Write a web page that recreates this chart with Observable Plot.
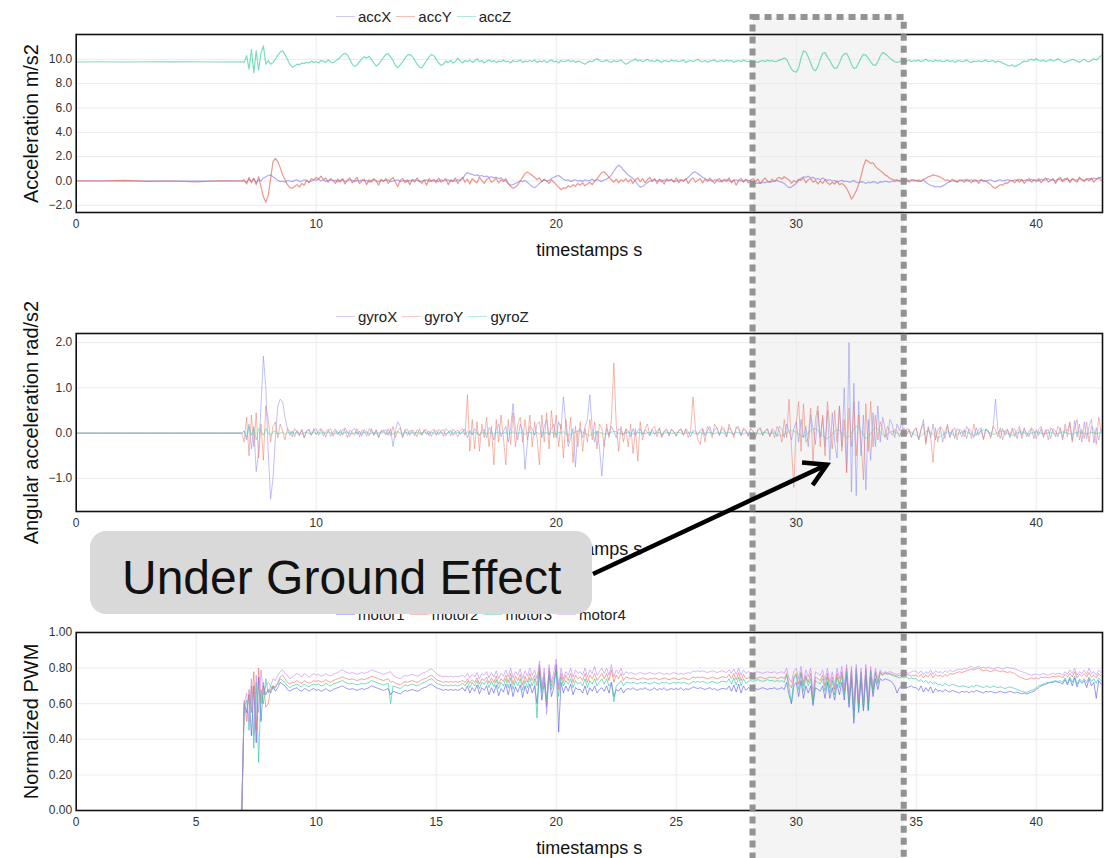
<!DOCTYPE html>
<html><head><meta charset="utf-8">
<script src="https://cdn.jsdelivr.net/npm/d3@7"></script>
<script src="https://cdn.jsdelivr.net/npm/@observablehq/plot@0.6"></script>
<style>
body{margin:0;background:#fff;}
#wrap{position:relative;width:1114px;height:858px;overflow:hidden;font-family:"Liberation Sans",Arial,sans-serif;}
#shade{position:absolute;background:#f4f4f4;z-index:0;}
.chart{position:absolute;left:0;z-index:1;}
.legend{position:absolute;z-index:2;display:flex;align-items:center;font-size:15px;color:#222;height:20px;}
.legend .it{display:flex;align-items:center;margin-right:5px;}
.legend .sw{display:inline-block;width:19px;height:0;border-top:1.2px solid;margin-right:3px;}
#box{position:absolute;left:90px;top:531px;width:502px;height:83px;border-radius:16px;background:#d9d9d9;z-index:4;
 font-family:"Liberation Sans",Arial,sans-serif;font-size:48px;color:#111;box-sizing:border-box;padding-left:32px;line-height:83px;}
#box span{position:relative;top:5px;}
#over{position:absolute;left:0;top:0;z-index:5;pointer-events:none;}
</style></head>
<body><div id="wrap"><div id="shade"></div></div>
<script>
// ---------- data ----------
const preT = [0, 1, 2, 3, 4, 5, 6, 6.9];      // flat pre-takeoff samples
const T0 = 7.0, DT = 0.1;                      // main samples: 7.0 s .. 42.7 s every 0.1 s
const highlight = [28.2, 34.5];                // "under ground effect" window (s)
const arrowTip = {t: 31.3, v: -0.7};           // arrow target in gyro panel

const accNames = ["accX", "accY", "accZ"];
const gyroNames = ["gyroX", "gyroY", "gyroZ"];
const motorNames = ["motor1", "motor2", "motor3", "motor4"];

const accXpre = [0, 0, 0, 0, 0, 0, 0, 0];
const accYpre = [0.02, 0, 0.05, -0.03, 0, -0.08, 0.02, 0];
const accZpre = [9.78, 9.8, 9.78, 9.8, 9.79, 9.8, 9.78, 9.8];
const accX = [
0.0,-0.1,0.15,-0.05,0.2,-0.15,0.1,0.0,0.25,0.35,
0.45,0.5,0.35,0.2,0.05,-0.05,0.0,-0.1,0.05,0.0,
-0.05,0.05,0.1,-0.05,0.0,0.1,0.05,-0.1,0.0,0.1,
0.05,0.15,0.0,0.1,-0.05,0.05,0.1,0.0,0.05,-0.05,
0.05,0.1,-0.05,0.0,0.1,0.05,-0.05,0.05,0.0,0.1,
0.0,0.05,-0.1,0.05,0.1,0.0,-0.05,0.05,0.0,0.05,
0.1,-0.05,0.0,0.05,0.1,-0.05,0.0,0.05,-0.05,0.05,
0.0,0.1,0.05,-0.05,0.0,0.05,0.1,-0.05,0.05,0.0,
0.05,-0.05,0.1,0.0,0.05,0.1,-0.05,0.05,0.0,0.1,
0.05,0.2,0.5,0.7,0.6,0.55,0.45,0.5,0.4,0.45,
0.35,0.4,0.3,0.35,0.25,0.3,0.2,0.25,0.1,0.0,
-0.2,-0.35,-0.3,-0.2,-0.1,0.0,-0.05,0.05,-0.1,-0.3,
-0.45,-0.55,-0.4,-0.2,-0.05,0.1,0.0,0.05,0.2,0.3,
0.4,0.45,0.3,0.15,0.05,0.1,-0.05,0.05,0.1,0.0,
0.05,-0.05,0.1,0.0,0.05,0.15,0.0,0.1,0.05,-0.05,
0.1,0.15,0.3,0.5,0.8,1.1,1.3,1.15,0.9,0.7,
0.5,0.35,0.2,0.0,-0.3,-0.5,-0.45,-0.3,-0.15,0.0,
0.05,0.1,0.0,0.05,-0.05,0.1,0.0,0.05,0.1,-0.05,
0.0,0.05,0.1,0.05,0.15,0.3,0.5,0.7,0.75,0.6,
0.45,0.3,0.2,0.1,0.05,0.0,0.1,0.05,-0.05,0.05,
0.0,0.1,0.05,-0.05,0.05,0.1,0.0,0.05,-0.05,0.1,
0.05,0.0,-0.1,-0.2,-0.15,-0.2,-0.1,-0.15,-0.05,-0.1,
-0.05,0.0,0.05,-0.05,-0.1,-0.2,-0.4,-0.55,-0.5,-0.35,
-0.2,0.05,0.2,0.35,0.3,0.4,0.25,0.3,0.15,0.2,
0.1,0.25,0.15,0.05,0.1,0.0,0.05,-0.1,0.0,0.05,
-0.05,0.0,-0.1,-0.05,0.05,-0.1,-0.15,-0.05,-0.1,-0.2,
-0.1,-0.15,-0.05,-0.1,-0.2,-0.05,-0.1,0.0,-0.05,-0.1,
0.0,-0.05,0.05,0.0,0.1,0.05,-0.05,0.05,0.1,0.0,
0.05,-0.05,0.0,0.1,-0.1,-0.25,-0.35,-0.4,-0.5,-0.45,
-0.5,-0.4,-0.3,-0.15,-0.05,0.0,0.05,-0.05,0.0,0.05,
0.1,0.0,0.05,0.1,-0.05,0.05,0.0,0.1,0.05,0.0,
0.05,0.1,0.0,-0.05,0.05,0.1,0.0,0.05,0.1,0.05,
0.0,0.1,0.05,0.15,0.0,0.05,0.1,0.0,0.15,0.05,
0.1,0.0,0.15,0.05,0.1,0.2,0.05,0.1,0.0,0.15,
0.1,0.05,0.2,0.1,0.0,0.15,0.1,0.05,0.2,0.1,
0.05,0.15,0.2,0.1,0.25,0.15,0.2,0.3];
const accY = [
0.1,-0.25,0.3,-0.15,0.2,-0.3,0.35,-0.5,-1.3,-1.75,
-1.2,0.2,1.6,1.85,1.6,1.1,0.5,0.1,-0.3,-0.55,
-0.6,-0.45,-0.3,-0.5,-0.2,-0.35,0.05,-0.15,0.2,0.1,
0.3,0.15,0.4,0.1,0.25,-0.1,0.2,0.05,-0.2,0.15,
-0.1,0.2,-0.25,0.1,0.25,-0.15,0.05,0.3,-0.2,0.0,
0.15,-0.3,0.1,-0.1,0.2,0.0,-0.35,0.15,-0.05,0.2,
-0.2,0.1,0.3,-0.1,-0.45,0.05,0.2,-0.15,0.1,-0.3,
0.15,-0.1,0.25,0.0,-0.2,0.1,-0.35,0.2,-0.05,0.15,
-0.15,0.25,-0.1,0.05,0.2,-0.3,0.1,-0.05,0.25,-0.2,
0.1,0.3,-0.1,0.15,-0.25,0.2,0.0,-0.15,0.3,0.05,
-0.2,0.15,0.25,-0.1,0.05,0.2,-0.15,0.1,-0.05,0.2,
-0.2,-0.45,-0.6,-0.5,-0.3,0.0,0.3,0.6,0.75,0.6,
0.45,0.3,0.1,0.25,-0.05,0.15,0.0,-0.2,0.1,-0.1,
-0.3,-0.5,-0.7,-0.55,-0.6,-0.4,-0.5,-0.3,-0.45,-0.2,
-0.35,-0.15,-0.4,-0.25,-0.1,-0.3,0.0,0.2,0.45,0.7,
0.75,0.55,0.3,0.1,-0.1,0.15,-0.15,0.1,-0.05,0.2,
-0.1,0.15,-0.2,0.1,0.25,-0.05,0.2,-0.15,0.1,0.3,
-0.05,0.2,-0.2,0.15,0.05,-0.25,0.2,0.0,0.15,-0.1,
0.25,-0.15,0.1,-0.05,0.2,-0.2,0.1,0.25,-0.1,0.05,
0.2,-0.15,0.15,-0.05,0.25,0.0,-0.2,0.1,0.2,-0.1,
0.15,-0.05,0.25,-0.15,0.1,-0.35,0.05,0.2,-0.1,0.15,
-0.15,0.1,0.2,-0.05,0.15,-0.2,0.05,0.25,0.0,-0.1,
0.15,-0.05,0.2,0.3,0.15,0.35,0.2,0.1,-0.2,0.05,
-0.1,0.15,0.05,0.25,-0.15,0.1,0.2,-0.1,0.05,-0.25,
0.0,-0.2,0.1,-0.15,-0.3,-0.1,-0.25,0.0,-0.3,-0.2,
-0.35,-0.6,-1.0,-1.5,-1.2,-0.8,-0.3,0.4,1.2,1.75,
1.6,1.45,1.5,1.2,1.0,0.85,0.7,0.5,0.4,0.2,
0.15,0.05,0.1,-0.05,0.1,0.0,0.15,-0.1,0.05,0.1,
0.0,0.1,-0.05,0.15,0.2,0.35,0.4,0.5,0.45,0.4,
0.3,0.2,0.05,0.1,-0.05,0.15,0.0,-0.1,0.1,0.05,
-0.1,0.15,0.0,-0.15,0.1,0.05,-0.2,0.1,-0.05,0.0,
-0.15,-0.3,-0.5,-0.6,-0.45,-0.3,-0.35,-0.15,-0.2,0.0,
0.05,-0.15,0.1,-0.1,0.15,-0.2,0.05,0.2,-0.1,0.1,
-0.05,0.2,-0.15,0.1,0.25,-0.1,0.05,0.2,-0.2,0.15,
0.3,-0.05,0.1,0.25,-0.15,0.2,0.05,-0.1,0.3,0.1,
-0.05,0.2,0.0,0.25,-0.1,0.15,0.3,0.05];
const accZ = [
9.75,10.3,9.2,10.8,8.9,10.7,9.1,10.5,11.1,9.6,
9.9,9.6,9.75,10.0,10.35,10.6,10.7,10.4,10.0,9.6,
9.35,9.45,9.6,9.55,9.7,9.65,9.75,9.7,9.85,9.75,
9.8,9.7,9.9,9.85,9.75,9.95,9.8,9.7,9.85,10.0,
10.15,10.4,10.5,10.35,10.0,9.6,9.4,9.55,9.8,10.05,
10.2,10.1,10.25,10.0,9.7,9.45,9.6,9.85,10.15,10.4,
10.45,10.2,9.9,9.5,9.3,9.55,9.8,10.1,10.35,10.4,
10.25,9.95,9.6,9.35,9.3,9.6,9.9,10.2,10.4,10.3,
10.0,9.7,9.5,9.6,9.85,9.75,9.9,9.7,9.8,10.1,
9.85,9.7,9.9,9.8,9.95,9.75,9.85,10.05,9.8,9.9,
9.7,9.85,9.95,9.8,9.9,9.75,9.85,9.8,9.95,9.8,
9.85,9.7,9.9,9.8,9.85,9.95,9.75,9.85,9.8,9.9,
9.8,9.95,9.75,9.85,9.8,9.9,9.75,9.85,9.95,9.8,
9.85,9.7,9.9,9.8,9.85,9.95,9.8,9.9,9.75,9.85,
9.8,9.7,9.6,9.75,9.85,9.8,9.95,10.05,9.9,9.8,
9.85,9.95,9.8,9.75,9.9,9.8,9.85,9.95,9.75,9.6,
9.7,9.85,9.9,10.05,9.85,9.95,9.8,9.9,10.0,9.85,
9.9,9.8,9.95,9.85,9.75,9.9,9.85,9.8,9.95,9.85,
9.9,9.8,9.85,9.95,9.75,9.85,9.9,9.8,9.9,10.0,
9.85,9.8,9.9,9.75,9.85,9.9,9.95,9.8,9.85,9.9,
9.8,9.95,9.85,9.9,9.75,9.85,9.9,9.8,9.95,9.85,
9.8,9.9,9.85,9.8,9.75,9.85,9.9,9.8,9.95,9.85,
9.9,9.8,9.85,9.95,10.0,10.1,10.0,9.6,9.2,9.0,
8.95,9.3,10.1,10.7,10.6,10.2,9.7,9.2,9.05,9.4,
10.0,10.5,10.55,10.2,9.9,9.5,9.25,9.3,9.7,10.2,
10.45,10.5,10.1,9.6,9.25,9.3,9.7,10.1,10.4,10.35,
10.1,9.8,9.55,9.5,9.8,10.25,10.55,10.45,10.3,10.1,
9.95,9.8,9.75,9.8,9.9,9.75,9.85,9.95,9.8,9.9,
9.85,9.95,9.8,9.9,10.0,9.85,9.9,9.8,9.95,9.85,
9.9,9.8,9.85,9.95,9.8,9.9,9.75,9.85,9.9,9.8,
9.85,9.95,9.8,9.75,9.85,9.8,9.9,9.8,9.85,9.95,
9.8,9.85,9.9,9.75,9.85,9.8,9.7,9.6,9.5,9.45,
9.55,9.4,9.5,9.6,9.75,9.85,9.8,9.95,10.0,9.9,
10.05,9.9,9.85,9.95,9.8,9.9,10.0,9.85,9.9,10.05,
9.9,9.8,9.75,9.85,9.9,10.0,9.95,9.85,9.75,9.9,
10.0,9.85,9.8,9.9,10.05,9.95,10.1,10.3];

const gyroPre = [0, 0, 0, 0, 0, 0, 0, 0];
const gyroX = [
0.05,-0.15,0.2,-0.35,0.15,-0.85,-0.4,0.6,1.7,1.0,
-0.4,-1.45,-1.0,-0.1,0.6,0.75,0.7,0.35,0.1,-0.05,
0.05,-0.08,0.06,-0.04,0.08,-0.1,0.04,0.07,-0.05,0.1,
-0.03,0.06,0.1,-0.06,0.04,0.08,-0.07,0.03,0.09,-0.04,
0.07,-0.05,0.12,0.02,-0.08,0.06,0.1,-0.03,0.05,-0.07,
0.08,0.03,-0.06,0.1,-0.04,0.06,-0.09,0.05,0.02,0.08,
-0.05,0.1,-0.3,0.05,0.25,0.15,-0.1,0.08,-0.05,0.06,
0.04,-0.06,0.07,0.02,-0.05,0.08,-0.03,0.05,-0.07,0.04,
0.06,-0.04,0.05,0.08,-0.06,0.03,0.07,-0.05,0.04,0.06,
-0.03,0.05,0.08,-0.1,0.06,-0.04,0.1,0.03,-0.06,0.05,
0.08,-0.1,0.12,0.05,-0.15,0.1,0.2,-0.08,0.04,0.15,
-0.2,0.1,0.65,0.1,-0.15,0.2,0.05,-0.8,-0.2,0.15,
0.1,-0.05,0.2,0.25,-0.1,0.15,0.3,-0.05,0.1,0.2,
-0.1,0.25,0.1,0.8,0.2,-0.3,-0.1,0.1,-0.75,0.05,
0.1,-0.1,0.15,0.3,0.85,0.1,-0.2,0.05,-0.3,-0.95,
-0.2,0.1,-0.05,0.15,0.05,-0.1,0.1,0.05,-0.05,0.08,
0.05,-0.08,0.1,-0.05,0.06,0.1,-0.04,0.07,0.02,-0.06,
0.08,-0.03,0.05,0.1,-0.07,0.04,0.06,-0.05,0.09,0.02,
-0.06,0.05,0.08,-0.04,0.1,0.03,-0.08,0.06,0.04,-0.05,
0.07,0.1,-0.06,0.05,0.15,-0.04,0.08,0.12,-0.05,0.1,
0.06,-0.08,0.12,0.05,-0.05,0.1,0.15,-0.06,0.08,0.05,
-0.05,0.1,0.04,-0.08,0.06,0.1,-0.04,0.05,0.08,-0.06,
0.1,0.05,-0.08,0.15,0.1,-0.1,0.2,0.05,-0.15,0.1,
0.25,-0.2,0.3,-0.1,0.15,-0.3,0.4,0.1,-0.25,0.5,
-0.1,0.35,-0.3,0.5,-0.6,0.45,-0.2,-0.55,0.6,-0.3,
1.0,-0.85,2.0,-1.3,1.1,-1.38,0.7,-0.5,0.4,-1.25,
0.3,-0.6,0.45,-0.3,0.6,-0.2,0.35,0.1,-0.15,0.3,
0.2,-0.1,0.2,0.05,0.25,-0.05,0.1,0.08,-0.1,0.05,
0.1,-0.15,0.08,0.3,-0.2,0.12,-0.1,0.2,-0.15,0.08,
0.12,-0.2,0.05,0.15,-0.1,0.08,-0.12,0.1,0.05,-0.08,
0.08,-0.12,0.1,0.04,-0.1,0.12,-0.05,0.08,-0.12,0.1,
0.05,-0.08,0.12,0.75,0.08,-0.12,0.1,-0.05,0.08,-0.1,
0.05,0.1,-0.12,0.08,-0.05,0.12,-0.08,0.05,0.1,-0.12,
0.08,-0.05,0.1,-0.1,0.05,0.08,-0.12,0.1,0.05,-0.08,
0.12,-0.1,0.08,0.05,0.22,-0.15,0.28,-0.08,0.2,-0.2,
0.25,-0.12,0.15,0.3,-0.22,0.12,-0.15,0.08];
const gyroY = [
-0.2,0.35,-0.5,0.4,-0.3,0.45,-0.55,0.2,-0.6,0.6,
0.3,-0.2,0.15,0.25,-0.1,0.2,0.05,-0.15,0.1,0.05,
-0.08,0.1,0.02,-0.06,0.08,-0.1,0.05,0.09,-0.04,0.06,
0.1,-0.05,0.08,0.04,-0.09,0.06,0.1,-0.07,0.05,0.03,
-0.06,0.09,0.05,-0.1,0.07,0.02,-0.05,0.1,-0.08,0.06,
0.04,-0.07,0.1,0.06,-0.05,0.08,-0.1,0.05,0.07,-0.04,
0.1,-0.06,0.15,-0.1,0.05,0.12,-0.08,0.06,0.09,-0.05,
0.07,0.03,-0.08,0.1,-0.04,0.06,0.08,-0.06,0.05,0.09,
-0.05,0.08,0.04,-0.07,0.1,0.05,-0.06,0.09,0.03,-0.08,
0.06,0.1,-0.05,0.85,-0.4,0.3,-0.35,0.25,-0.4,0.2,
-0.1,0.35,-0.3,0.15,-0.7,0.3,-0.2,0.4,-0.1,-0.7,
0.3,-0.25,0.45,-0.3,0.2,0.35,-0.2,0.3,-0.15,0.4,
-0.3,0.25,-0.1,-0.7,0.4,-0.2,0.45,-0.35,0.5,-0.1,
0.4,-0.3,0.2,-0.55,0.3,-0.2,0.35,-0.65,0.15,-0.3,
0.25,-0.4,0.1,-0.2,0.3,-0.15,0.25,-0.35,0.2,0.1,
-0.3,0.2,-0.1,0.3,1.55,0.2,-0.4,0.15,-0.2,0.1,
-0.3,0.2,-0.45,0.1,-0.62,0.25,-0.15,0.1,0.2,-0.05,
0.1,0.15,-0.08,0.12,-0.1,0.05,0.1,-0.06,0.08,0.04,
-0.07,0.06,0.1,-0.05,0.08,-0.1,0.05,0.8,0.1,-0.15,
-0.25,0.1,-0.2,0.15,0.05,-0.1,0.2,0.1,-0.05,0.15,
0.1,-0.08,0.2,0.05,-0.1,0.15,0.08,-0.05,0.12,0.06,
-0.07,0.1,0.05,-0.1,0.08,0.12,-0.06,0.05,0.1,-0.08,
0.06,-0.1,0.15,0.05,-0.2,0.3,-0.1,0.75,-0.3,-1.2,
0.2,0.7,-0.4,0.65,-0.2,-0.1,0.55,-0.65,0.3,0.6,
-0.3,0.4,-0.5,0.7,0.1,-0.35,0.5,-0.2,0.6,-0.4,
0.3,-0.88,0.55,-0.3,0.7,-0.5,0.4,-0.2,-1.03,0.65,
-0.4,0.7,-0.3,0.4,-0.15,0.25,0.1,-0.1,0.15,0.05,
-0.05,0.08,0.05,-0.08,0.06,0.12,-0.05,0.08,-0.08,0.05,
0.12,-0.15,0.08,0.2,-0.25,0.15,-0.08,-0.65,0.12,-0.2,
0.15,0.08,-0.12,0.2,-0.08,0.05,0.12,-0.15,0.08,0.05,
-0.08,0.15,0.05,-0.12,0.2,-0.05,0.08,0.12,-0.15,0.08,
0.05,-0.12,0.15,0.08,-0.08,0.12,-0.15,0.05,0.08,-0.05,
0.12,-0.08,0.05,0.15,-0.12,0.08,0.0,-0.08,0.12,0.05,
-0.12,0.08,0.15,-0.05,0.08,-0.15,0.12,0.05,-0.08,0.15,
0.08,-0.15,0.2,-0.08,0.25,-0.2,0.12,0.3,-0.15,0.08,
-0.12,0.25,-0.2,0.15,0.08,-0.25,0.35,0.05];
const gyroZ = [
0.05,-0.1,0.15,-0.05,0.1,-0.15,0.1,0.05,-0.05,0.1,
0.0,-0.05,0.03,0.05,-0.02,0.0,0.03,-0.03,0.02,0.0,
0.02,-0.01,0.03,0.0,-0.02,0.01,0.03,-0.01,0.0,0.02,
-0.02,0.01,0.0,0.02,-0.01,0.03,0.01,-0.02,0.0,0.01,
0.02,-0.01,0.01,0.03,0.0,-0.02,0.01,0.02,-0.01,0.0,
0.01,0.03,-0.01,0.0,0.02,-0.02,0.01,0.0,0.03,-0.01,
0.0,0.02,-0.03,0.01,0.04,0.0,-0.02,0.01,0.02,-0.01,
0.01,0.0,0.02,-0.02,0.01,0.03,0.0,-0.01,0.02,0.0,
-0.01,0.02,0.01,0.0,-0.02,0.01,0.03,0.0,-0.01,0.02,
0.0,0.01,-0.02,0.03,0.01,-0.01,0.02,0.0,-0.03,0.01,
0.02,-0.01,0.0,0.03,-0.02,0.01,0.02,-0.01,0.0,0.02,
-0.02,0.01,0.03,0.0,-0.01,0.02,0.0,-0.03,0.01,0.02,
0.0,-0.01,0.02,-0.02,0.03,0.0,0.01,-0.01,0.02,0.0,
-0.03,0.02,0.0,0.04,-0.02,-0.05,-0.03,0.0,0.03,0.05,
0.04,0.02,-0.01,-0.04,-0.05,-0.02,0.01,0.03,0.02,0.0,
-0.02,-0.03,0.0,0.02,0.04,0.03,0.0,-0.02,-0.01,0.01,
0.02,0.0,-0.02,-0.01,0.01,0.02,0.0,-0.01,0.01,0.02,
0.0,-0.01,0.02,0.01,-0.02,0.0,0.01,0.02,-0.01,0.0,
0.01,0.02,0.0,-0.02,0.01,0.0,0.02,0.01,-0.01,0.0,
0.02,-0.01,0.0,0.01,0.02,0.0,-0.02,0.01,0.0,0.02,
-0.01,0.01,0.02,0.0,-0.01,0.02,0.01,0.0,-0.02,0.01,
0.0,0.02,-0.01,0.01,0.0,-0.02,0.01,0.02,0.0,-0.01,
0.01,0.0,-0.03,-0.05,-0.06,-0.03,0.0,0.04,0.06,0.05,
0.02,-0.02,-0.06,-0.08,-0.05,0.0,0.05,0.09,0.1,0.06,
0.0,-0.06,-0.1,-0.12,-0.08,-0.02,0.04,0.08,0.06,0.0,
-0.05,-0.1,-0.08,0.0,0.1,0.15,0.12,0.05,-0.05,-0.12,
-0.1,-0.02,0.08,0.12,0.1,0.03,-0.04,-0.06,-0.03,0.02,
0.04,0.03,0.0,-0.02,-0.03,-0.01,0.02,0.04,0.02,-0.02,
-0.05,-0.08,-0.06,-0.02,0.03,0.05,0.02,-0.03,-0.07,-0.1,
-0.08,-0.04,0.0,0.03,0.02,-0.02,-0.05,-0.03,0.0,0.02,
0.04,0.03,0.0,-0.03,-0.05,-0.03,0.01,0.05,0.07,0.06,
0.03,0.0,-0.03,-0.02,0.01,0.04,0.05,0.03,-0.01,-0.04,
-0.05,-0.03,0.0,0.02,0.03,0.01,-0.02,-0.03,0.0,0.02,
0.03,0.02,0.0,-0.02,-0.01,0.01,0.02,0.0,-0.02,-0.01,
0.01,0.03,0.02,0.0,-0.02,-0.03,0.0,0.02,0.03,0.01,
-0.01,-0.02,0.0,0.02,0.01,-0.01,0.0,0.02];

const motorPre = [0, 0, 0, 0, 0, 0, 0, 0];
const motor1 = [
0.6,0.55,0.65,0.42,0.7,0.38,0.75,0.5,0.7,0.65,
0.68,0.66,0.7,0.67,0.69,0.72,0.71,0.7,0.68,0.67,
0.68,0.685,0.69,0.675,0.67,0.685,0.68,0.67,0.68,0.685,
0.675,0.68,0.67,0.675,0.685,0.675,0.67,0.68,0.685,0.69,
0.695,0.7,0.69,0.685,0.68,0.685,0.68,0.675,0.68,0.685,
0.68,0.685,0.69,0.7,0.695,0.69,0.685,0.68,0.675,0.68,
0.685,0.65,0.67,0.665,0.66,0.655,0.665,0.675,0.67,0.675,
0.68,0.675,0.67,0.675,0.685,0.69,0.695,0.705,0.71,0.7,
0.69,0.685,0.68,0.675,0.68,0.675,0.68,0.675,0.68,0.675,
0.68,0.69,0.67,0.7,0.66,0.69,0.67,0.705,0.655,0.69,
0.675,0.7,0.65,0.69,0.66,0.705,0.645,0.685,0.665,0.71,
0.65,0.71,0.64,0.695,0.665,0.705,0.635,0.7,0.655,0.71,
0.66,0.7,0.6,0.78,0.62,0.72,0.58,0.76,0.64,0.69,
0.82,0.44,0.72,0.66,0.7,0.67,0.71,0.65,0.69,0.68,
0.68,0.66,0.7,0.65,0.69,0.67,0.7,0.66,0.68,0.69,
0.67,0.7,0.66,0.72,0.64,0.68,0.67,0.69,0.66,0.68,
0.685,0.68,0.69,0.68,0.675,0.685,0.68,0.69,0.68,0.675,
0.68,0.69,0.675,0.685,0.68,0.69,0.675,0.68,0.685,0.68,
0.685,0.68,0.69,0.675,0.685,0.68,0.685,0.695,0.69,0.685,
0.69,0.685,0.68,0.685,0.69,0.68,0.685,0.675,0.68,0.685,
0.685,0.68,0.7,0.67,0.705,0.665,0.71,0.66,0.7,0.675,
0.69,0.685,0.69,0.685,0.68,0.685,0.69,0.685,0.68,0.685,
0.685,0.69,0.68,0.685,0.69,0.68,0.72,0.65,0.6,0.7,
0.72,0.64,0.73,0.63,0.7,0.66,0.7,0.59,0.69,0.68,
0.67,0.7,0.63,0.72,0.63,0.69,0.62,0.71,0.65,0.72,
0.62,0.76,0.58,0.74,0.49,0.77,0.55,0.74,0.56,0.76,
0.56,0.75,0.64,0.74,0.68,0.74,0.73,0.74,0.735,0.73,
0.72,0.7,0.66,0.69,0.7,0.695,0.69,0.695,0.7,0.69,
0.69,0.675,0.7,0.665,0.69,0.67,0.695,0.66,0.685,0.67,
0.675,0.665,0.68,0.67,0.665,0.675,0.67,0.665,0.66,0.67,
0.665,0.67,0.66,0.67,0.665,0.675,0.67,0.665,0.66,0.67,
0.665,0.67,0.665,0.66,0.665,0.67,0.665,0.66,0.665,0.67,
0.665,0.66,0.665,0.66,0.655,0.66,0.655,0.66,0.665,0.67,
0.68,0.69,0.7,0.705,0.71,0.715,0.72,0.72,0.725,0.72,
0.72,0.71,0.735,0.705,0.74,0.7,0.745,0.695,0.73,0.715,
0.73,0.69,0.74,0.7,0.72,0.63,0.73,0.71];
const motor2 = [
0.62,0.5,0.68,0.55,0.78,0.45,0.8,0.6,0.72,0.58,
0.6,0.68,0.7,0.69,0.72,0.75,0.76,0.74,0.72,0.71,
0.72,0.72,0.73,0.72,0.715,0.73,0.72,0.715,0.72,0.73,
0.725,0.73,0.72,0.725,0.735,0.725,0.72,0.73,0.735,0.74,
0.745,0.75,0.745,0.74,0.735,0.74,0.735,0.73,0.735,0.74,
0.735,0.74,0.745,0.755,0.75,0.745,0.74,0.735,0.73,0.735,
0.74,0.72,0.725,0.715,0.71,0.705,0.715,0.725,0.72,0.725,
0.73,0.725,0.72,0.725,0.735,0.74,0.745,0.755,0.76,0.75,
0.735,0.73,0.725,0.72,0.725,0.72,0.725,0.72,0.725,0.72,
0.725,0.73,0.72,0.74,0.715,0.735,0.72,0.745,0.71,0.74,
0.73,0.75,0.715,0.745,0.72,0.755,0.71,0.74,0.725,0.76,
0.72,0.77,0.71,0.755,0.73,0.765,0.705,0.755,0.72,0.77,
0.73,0.76,0.7,0.82,0.68,0.77,0.6,0.8,0.7,0.75,
0.8,0.68,0.77,0.72,0.76,0.73,0.77,0.72,0.76,0.74,
0.75,0.73,0.77,0.72,0.76,0.74,0.77,0.73,0.75,0.77,
0.74,0.77,0.73,0.79,0.72,0.76,0.74,0.77,0.73,0.75,
0.745,0.74,0.745,0.74,0.735,0.74,0.745,0.74,0.735,0.74,
0.74,0.745,0.74,0.735,0.74,0.745,0.74,0.735,0.74,0.745,
0.74,0.735,0.74,0.745,0.74,0.735,0.74,0.75,0.745,0.75,
0.745,0.75,0.745,0.74,0.745,0.75,0.745,0.74,0.745,0.75,
0.75,0.745,0.765,0.74,0.77,0.735,0.775,0.73,0.765,0.74,
0.745,0.75,0.745,0.74,0.745,0.75,0.745,0.74,0.745,0.75,
0.745,0.75,0.74,0.745,0.75,0.74,0.77,0.71,0.69,0.75,
0.77,0.71,0.78,0.7,0.76,0.72,0.77,0.62,0.75,0.74,
0.73,0.76,0.7,0.77,0.69,0.75,0.68,0.77,0.71,0.78,
0.67,0.8,0.62,0.79,0.56,0.8,0.6,0.78,0.58,0.8,
0.6,0.79,0.68,0.78,0.72,0.78,0.76,0.77,0.765,0.77,
0.765,0.76,0.755,0.76,0.755,0.76,0.765,0.76,0.755,0.76,
0.76,0.75,0.765,0.745,0.76,0.75,0.77,0.745,0.765,0.755,
0.76,0.75,0.765,0.755,0.77,0.765,0.77,0.775,0.78,0.775,
0.78,0.785,0.79,0.795,0.79,0.795,0.8,0.79,0.785,0.79,
0.785,0.78,0.785,0.79,0.785,0.78,0.785,0.78,0.775,0.78,
0.775,0.77,0.76,0.75,0.745,0.74,0.735,0.74,0.745,0.74,
0.745,0.74,0.75,0.745,0.75,0.745,0.75,0.755,0.75,0.755,
0.755,0.745,0.765,0.75,0.77,0.75,0.78,0.745,0.765,0.755,
0.77,0.75,0.775,0.75,0.76,0.745,0.77,0.755];
const motor3 = [
0.58,0.62,0.45,0.7,0.35,0.72,0.27,0.68,0.6,0.74,
0.66,0.7,0.68,0.7,0.71,0.74,0.73,0.72,0.7,0.69,
0.7,0.705,0.71,0.7,0.695,0.71,0.7,0.695,0.705,0.71,
0.705,0.71,0.7,0.705,0.715,0.705,0.7,0.71,0.715,0.72,
0.725,0.73,0.72,0.715,0.71,0.715,0.71,0.705,0.71,0.715,
0.71,0.715,0.72,0.73,0.725,0.72,0.715,0.71,0.705,0.71,
0.715,0.6,0.7,0.695,0.69,0.685,0.695,0.705,0.7,0.705,
0.71,0.705,0.7,0.705,0.715,0.72,0.725,0.735,0.74,0.73,
0.715,0.71,0.705,0.7,0.705,0.7,0.705,0.7,0.705,0.7,
0.705,0.715,0.7,0.725,0.69,0.72,0.7,0.73,0.685,0.72,
0.71,0.73,0.69,0.725,0.695,0.735,0.685,0.72,0.7,0.74,
0.69,0.745,0.68,0.73,0.7,0.74,0.675,0.73,0.69,0.745,
0.7,0.74,0.52,0.8,0.66,0.75,0.62,0.78,0.68,0.72,
0.78,0.64,0.75,0.7,0.73,0.71,0.74,0.69,0.73,0.71,
0.72,0.7,0.74,0.69,0.73,0.71,0.74,0.7,0.72,0.74,
0.71,0.74,0.7,0.72,0.61,0.7,0.71,0.73,0.7,0.72,
0.72,0.715,0.72,0.715,0.71,0.72,0.715,0.72,0.715,0.71,
0.715,0.72,0.715,0.71,0.72,0.715,0.72,0.71,0.715,0.72,
0.715,0.72,0.715,0.72,0.715,0.71,0.715,0.725,0.72,0.725,
0.72,0.725,0.72,0.715,0.72,0.725,0.72,0.715,0.72,0.725,
0.725,0.72,0.74,0.71,0.745,0.705,0.75,0.7,0.74,0.715,
0.725,0.73,0.725,0.73,0.735,0.73,0.725,0.73,0.735,0.73,
0.73,0.725,0.73,0.725,0.73,0.72,0.76,0.69,0.6,0.74,
0.76,0.68,0.77,0.67,0.75,0.7,0.74,0.6,0.73,0.72,
0.71,0.74,0.67,0.75,0.66,0.73,0.65,0.75,0.69,0.76,
0.65,0.78,0.6,0.77,0.52,0.79,0.57,0.77,0.56,0.79,
0.57,0.78,0.66,0.77,0.71,0.77,0.76,0.775,0.77,0.765,
0.76,0.755,0.75,0.745,0.75,0.745,0.75,0.74,0.745,0.74,
0.74,0.725,0.735,0.72,0.73,0.715,0.725,0.71,0.72,0.705,
0.71,0.7,0.715,0.705,0.7,0.71,0.705,0.7,0.695,0.7,
0.7,0.695,0.69,0.7,0.695,0.705,0.7,0.695,0.69,0.7,
0.695,0.69,0.7,0.695,0.69,0.695,0.69,0.685,0.69,0.695,
0.69,0.685,0.68,0.675,0.67,0.665,0.665,0.67,0.675,0.68,
0.69,0.7,0.705,0.71,0.715,0.72,0.72,0.725,0.73,0.725,
0.73,0.72,0.745,0.715,0.75,0.72,0.755,0.71,0.74,0.725,
0.74,0.72,0.75,0.725,0.74,0.715,0.745,0.73];
const motor4 = [
0.6,0.66,0.5,0.74,0.42,0.76,0.55,0.79,0.65,0.7,
0.72,0.7,0.74,0.73,0.76,0.78,0.79,0.77,0.76,0.74,
0.75,0.76,0.77,0.76,0.75,0.77,0.76,0.75,0.76,0.77,
0.76,0.765,0.755,0.76,0.77,0.76,0.755,0.765,0.77,0.775,
0.785,0.79,0.78,0.775,0.77,0.775,0.77,0.765,0.77,0.775,
0.77,0.775,0.78,0.79,0.785,0.78,0.775,0.77,0.765,0.77,
0.775,0.78,0.76,0.75,0.745,0.74,0.75,0.76,0.755,0.76,
0.765,0.76,0.755,0.76,0.77,0.775,0.78,0.79,0.795,0.785,
0.77,0.76,0.755,0.75,0.755,0.75,0.755,0.75,0.755,0.75,
0.755,0.76,0.75,0.77,0.745,0.765,0.75,0.775,0.74,0.77,
0.76,0.78,0.745,0.775,0.75,0.785,0.74,0.77,0.755,0.79,
0.75,0.8,0.745,0.78,0.76,0.795,0.74,0.785,0.755,0.8,
0.76,0.79,0.74,0.84,0.7,0.8,0.54,0.82,0.72,0.78,
0.85,0.7,0.8,0.74,0.78,0.76,0.8,0.75,0.79,0.77,
0.78,0.76,0.8,0.75,0.79,0.77,0.81,0.76,0.78,0.8,
0.77,0.8,0.76,0.82,0.75,0.79,0.77,0.8,0.76,0.78,
0.77,0.775,0.77,0.765,0.77,0.775,0.77,0.765,0.77,0.775,
0.77,0.765,0.77,0.775,0.77,0.765,0.77,0.765,0.77,0.775,
0.77,0.765,0.77,0.765,0.77,0.775,0.77,0.785,0.78,0.785,
0.78,0.785,0.78,0.775,0.78,0.785,0.78,0.775,0.78,0.785,
0.78,0.775,0.79,0.77,0.795,0.765,0.8,0.76,0.79,0.77,
0.78,0.775,0.77,0.775,0.78,0.775,0.77,0.775,0.78,0.775,
0.775,0.78,0.77,0.775,0.78,0.77,0.8,0.74,0.72,0.78,
0.8,0.74,0.81,0.72,0.79,0.75,0.8,0.66,0.78,0.77,
0.76,0.79,0.73,0.8,0.72,0.78,0.7,0.8,0.74,0.81,
0.7,0.82,0.64,0.81,0.58,0.82,0.62,0.8,0.6,0.82,
0.62,0.81,0.7,0.8,0.74,0.79,0.77,0.78,0.775,0.78,
0.775,0.77,0.765,0.77,0.775,0.78,0.775,0.77,0.78,0.785,
0.78,0.77,0.785,0.765,0.78,0.77,0.79,0.765,0.785,0.775,
0.78,0.77,0.785,0.775,0.79,0.78,0.785,0.79,0.795,0.79,
0.8,0.795,0.805,0.81,0.8,0.805,0.81,0.8,0.805,0.8,
0.805,0.8,0.795,0.8,0.805,0.8,0.795,0.8,0.805,0.8,
0.8,0.795,0.79,0.785,0.78,0.775,0.77,0.765,0.76,0.765,
0.765,0.76,0.765,0.77,0.765,0.76,0.765,0.77,0.765,0.77,
0.77,0.76,0.78,0.765,0.79,0.77,0.8,0.76,0.78,0.77,
0.79,0.765,0.8,0.77,0.78,0.76,0.79,0.775];

const accColors = ["#7f7ff0", "#e4604a", "#33cc9a"];
const gyroColors = ["#8c8cf4", "#ec7e6a", "#45d2b6"];
const motorColors = ["#5555f2", "#ee6a56", "#22c49b", "#c084f7"];

// ---------- build ----------
function rows(name, pre, main) {
  const out = preT.map((t, i) => ({t, v: pre[i], s: name}));
  main.forEach((v, i) => out.push({t: +(T0 + i * DT).toFixed(2), v, s: name}));
  return out;
}
const accData = [...rows("accX", accXpre, accX), ...rows("accY", accYpre, accY), ...rows("accZ", accZpre, accZ)];
const gyroData = [...rows("gyroX", gyroPre, gyroX), ...rows("gyroY", gyroPre, gyroY), ...rows("gyroZ", gyroPre, gyroZ)];
const motorData = [...rows("motor1", motorPre, motor1), ...rows("motor2", motorPre, motor2),
                   ...rows("motor3", motorPre, motor3), ...rows("motor4", motorPre, motor4)];

const W = 1114, ML = 75.7, MR = 12, MT = 30, MB = 50, H = 178;
const FONT = '"Liberation Sans",Arial,sans-serif';
const wrap = document.getElementById("wrap");

function panel({data, names, colors, yDomain, yTicks, yFmt, xTicks, ylabel, frameTop, opacity, sw}) {
  const chart = Plot.plot({
    width: W, height: MT + H + MB,
    marginLeft: ML, marginRight: MR, marginTop: MT, marginBottom: MB,
    style: {fontFamily: FONT, fontSize: "12px", color: "#333", background: "transparent", overflow: "visible"},
    x: {domain: [0, 42.76]},
    y: {domain: yDomain},
    color: {domain: names, range: colors},
    marks: [
      Plot.gridX(xTicks.filter(d => d > 0), {stroke: "#ebebeb", strokeOpacity: 1}),
      Plot.gridY(yTicks, {stroke: "#ebebeb", strokeOpacity: 1}),
      Plot.axisX(xTicks, {tickSize: 0, tickPadding: 7, fontSize: 12, fill: "#333", label: null}),
      Plot.axisY(yTicks, {tickSize: 0, tickPadding: 4, fontSize: 12, fill: "#333", tickFormat: d3.format(yFmt), label: null}),
      Plot.line(data, {x: "t", y: "v", z: "s", stroke: "s", strokeWidth: sw, strokeOpacity: opacity}),
      Plot.frame({stroke: "#111", strokeWidth: 1.6}),
      Plot.text(["timestamps s"], {frameAnchor: "bottom", textAnchor: "middle", lineAnchor: "middle", dy: 38, fontSize: 18, fill: "#111"}),
      Plot.text([ylabel], {frameAnchor: "left", textAnchor: "middle", lineAnchor: "middle", rotate: -90, dx: -45,
        fontSize: 20, fill: "#111"})
    ]
  });
  chart.classList.add("chart");
  chart.style.top = (frameTop - MT) + "px";
  wrap.appendChild(chart);
  return chart;
}
function legend(names, colors, centerY) {
  const d = document.createElement("div");
  d.className = "legend";
  d.style.left = "336px";
  d.style.top = (centerY - 10) + "px";
  names.forEach((n, i) => {
    const it = document.createElement("span");
    it.className = "it";
    it.innerHTML = `<span class="sw" style="border-color:${colors[i]};opacity:0.4"></span>${n}`;
    d.appendChild(it);
  });
  wrap.appendChild(d);
}

const xt10 = [0, 10, 20, 30, 40], xt5 = [0, 5, 10, 15, 20, 25, 30, 35, 40];
const p1 = panel({data: accData, names: accNames, colors: accColors, yDomain: [-2.59, 12.04], yTicks: [-2, 0, 2, 4, 6, 8, 10],
  yFmt: ".1f", xTicks: xt10, ylabel: "Acceleration m/s2", frameTop: 33.5, opacity: 0.65, sw: 1.2});
const p2 = panel({data: gyroData, names: gyroNames, colors: gyroColors, yDomain: [-1.73, 2.2], yTicks: [-1, 0, 1, 2],
  yFmt: ".1f", xTicks: xt10, ylabel: "Angular acceleration rad/s2", frameTop: 333.3, opacity: 0.55, sw: 1});
const p3 = panel({data: motorData, names: motorNames, colors: motorColors, yDomain: [0, 1], yTicks: [0, 0.2, 0.4, 0.6, 0.8, 1],
  yFmt: ".2f", xTicks: xt5, ylabel: "Normalized PWM", frameTop: 632, opacity: 0.6, sw: 1});
legend(accNames, accColors, 16);
legend(gyroNames, gyroColors, 316);
legend(motorNames, motorColors, 614);

// highlight window positioned with the x scale
const xs = p3.scale("x");
const hx0 = xs.apply(highlight[0]), hx1 = xs.apply(highlight[1]);
const shade = document.getElementById("shade");
Object.assign(shade.style, {left: hx0 + "px", top: "17px", width: (hx1 - hx0) + "px", height: "900px"});

// annotation box
const box = document.createElement("div");
box.id = "box";
box.innerHTML = "<span>Under Ground Effect</span>";
wrap.appendChild(box);

// overlay: dotted border + arrow
const tipX = p2.scale("x").apply(arrowTip.t);
const tipY = p2.scale("y").apply(arrowTip.v) + (333.3 - MT);
const sx = 593, sy = 574;
const ang = Math.atan2(sy - tipY, sx - tipX), L = 25, A = Math.PI / 6;
const b1 = [tipX + L * Math.cos(ang + A), tipY + L * Math.sin(ang + A)];
const b2 = [tipX + L * Math.cos(ang - A), tipY + L * Math.sin(ang - A)];
const ns = "http://www.w3.org/2000/svg";
const over = document.createElementNS(ns, "svg");
over.setAttribute("id", "over");
over.setAttribute("width", W); over.setAttribute("height", 858);
over.innerHTML = `
<rect x="${hx0}" y="17" width="${hx1 - hx0}" height="900" fill="none" stroke="#8a8a8a" stroke-opacity="0.92" stroke-width="6" stroke-dasharray="7 5"/>
<line x1="${sx}" y1="${sy}" x2="${tipX}" y2="${tipY}" stroke="#000" stroke-width="4.5"/>
<polyline points="${b1.join(",")} ${tipX},${tipY} ${b2.join(",")}" fill="none" stroke="#000" stroke-width="4.5" stroke-linejoin="miter"/>`;
wrap.appendChild(over);
</script>
</body></html>
